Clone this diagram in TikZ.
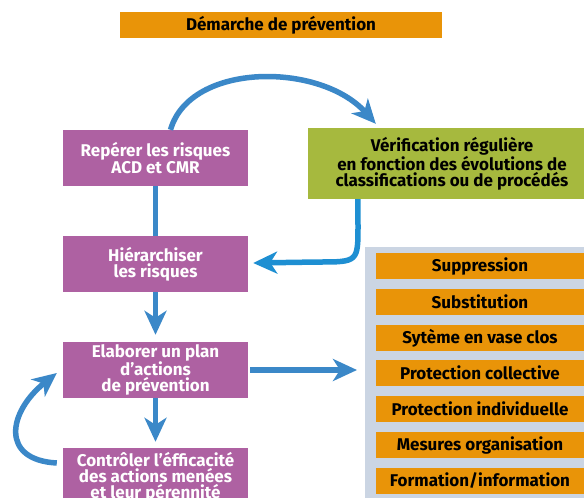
\documentclass[tikz,border=0pt]{standalone}
\usepackage{fontspec}
\setmainfont{Fira Sans}
\usetikzlibrary{arrows.meta}
\definecolor{purp}{RGB}{174,97,162}
\definecolor{greenbox}{RGB}{166,185,62}
\definecolor{orangebox}{RGB}{233,148,8}
\definecolor{panelc}{RGB}{203,213,227}
\definecolor{arrowblue}{RGB}{59,136,200}
\definecolor{arrowcyan}{RGB}{30,143,210}
\begin{document}
\begin{tikzpicture}[x=1pt,y=-1pt,
  lbl/.style={font=\bfseries\fontsize{17}{15.8}\selectfont, align=center, inner sep=0pt},
  pbox/.style={lbl, fill=purp, text=white, minimum width=185pt, minimum height=56pt},
  obox/.style={lbl, fill=orangebox, text=black, minimum width=208pt, minimum height=26pt},
  arr/.style={line width=5.5pt, -{Stealth[length=24pt,width=22pt,inset=7pt]}},
  link/.style={line width=5.5pt}
]
\clip (0,0) rectangle (584,498);
\fill[white] (0,0) rectangle (584,498);

% title
\node[lbl, fill=orangebox, minimum width=322pt, minimum height=26pt] (title) at (281,25) {Démarche de prévention};

% panel
\node[fill=panelc, minimum width=235pt, minimum height=263pt, inner sep=0pt, anchor=north west] (panel) at (365,247) {};

% left column
\node[pbox] (rep) at (155.5,158) {Repérer les risques\\ACD et CMR};
\node[pbox] (hier) at (155.5,264) {Hiérarchiser\\les risques};
\node[pbox] (elab) at (155.5,370) {Elaborer un plan\\d’actions\\de prévention};
\node[pbox, minimum height=58pt] (ctrl) at (155.5,477) {Contrôler l’éfficacité\\des actions menées\\et leur pérennité};

% verification
\node[lbl, fill=greenbox, text=black, minimum width=288pt, minimum height=71pt] (ver) at (452,163.5) {Vérification régulière\\en fonction des évolutions de\\classifications ou de procédés};

% orange items
\node[obox] (i1) at (480,266) {Suppression};
\node[obox] (i2) at (480,302) {Substitution};
\node[obox] (i3) at (480,338) {Sytème en vase clos};
\node[obox] (i4) at (480,373) {Protection collective};
\node[obox] (i5) at (480,409) {Protection individuelle};
\node[obox] (i6) at (480,445) {Mesures organisation};
\node[obox] (i7) at (480,480.5) {Formation/information};

% connectors
\coordinate (rtip) at (357,370);
\draw[arr, draw=arrowblue] ([xshift=15pt]rep.north) .. controls (190,62) and (320,62) .. ([shift={(68,-4)}]ver.north west);
\draw[link, draw=arrowblue] (rep.south) -- (hier.north);
\draw[arr, draw=arrowcyan] ([xshift=50pt]ver.south west) -- (358,225) .. controls (358,262) .. (318,262) -- ([xshift=5pt,yshift=1pt]hier.east);
\draw[arr, draw=arrowblue] (hier.south) -- ([yshift=7pt]elab.north);
\draw[arr, draw=arrowblue] ([xshift=2pt]elab.east) -- (rtip);
\draw[arr, draw=arrowblue] (elab.south) -- ([yshift=6pt]ctrl.north);
\draw[arr, draw=arrowblue] ([shift={(-6,-14)}]ctrl.west) .. controls (0,460) and (8,412) .. ([shift={(-6,3)}]elab.west);
\end{tikzpicture}
\end{document}
